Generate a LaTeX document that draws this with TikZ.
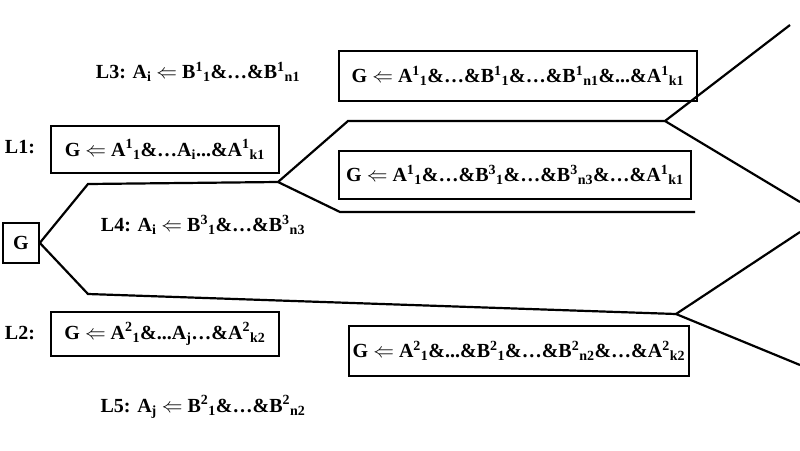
\documentclass[tikz,border=0pt]{standalone}
\usepackage{fontspec}
\setmainfont{Liberation Serif}
\begin{document}
\begin{tikzpicture}[x=1pt,y=-1pt,line width=2.2pt,
 box/.style={draw,line width=1.8pt,inner sep=0pt,anchor=north west,font=\bfseries\fontsize{20}{24}\selectfont},
 lbl/.style={font=\bfseries\fontsize{20}{24}\selectfont}]
\useasboundingbox (0,0) rectangle (800,450);
\newcommand{\sr}[2]{\textsuperscript{#1}\textsubscript{#2}}
\node[box,minimum width=36pt,minimum height=40pt] (g) at (2,222) {G};
\node[box,minimum width=358pt,minimum height=50pt] (b1) at (338,50) {G $\Leftarrow$ A\sr{1}{1}\&…\&B\sr{1}{1}\&…\&B\sr{1}{n1}\&...\&A\sr{1}{k1}};
\node[box,minimum width=228pt,minimum height=47pt] (b2) at (50,125) {G $\Leftarrow$ A\sr{1}{1}\&…A\textsubscript{i}...\&A\sr{1}{k1}};
\node[box,minimum width=352pt,minimum height=48pt] (b3) at (338,150) {G $\Leftarrow$ A\sr{1}{1}\&…\&B\sr{3}{1}\&…\&B\sr{3}{n3}\&…\&A\sr{1}{k1}};
\node[box,minimum width=228pt,minimum height=44pt] (b4) at (50,311) {G $\Leftarrow$ A\sr{2}{1}\&...A\textsubscript{j}…\&A\sr{2}{k2}};
\node[box,minimum width=340pt,minimum height=50pt] (b5) at (348,325) {G $\Leftarrow$ A\sr{2}{1}\&...\&B\sr{2}{1}\&…\&B\sr{2}{n2}\&…\&A\sr{2}{k2}};
\node[lbl] (l3) at (198,72) {L3: A\textsubscript{i} $\Leftarrow$ B\sr{1}{1}\&…\&B\sr{1}{n1}};
\node[lbl] (l1) at (20,147) {L1:};
\node[lbl] (l4) at (203,225) {L4: A\textsubscript{i} $\Leftarrow$ B\sr{3}{1}\&…\&B\sr{3}{n3}};
\node[lbl] (l2) at (20,333) {L2:};
\node[lbl] (l5) at (203,407) {L5: A\textsubscript{j} $\Leftarrow$ B\sr{2}{1}\&…\&B\sr{2}{n2}};
\coordinate (p1) at (88,184); \coordinate (p2) at (278,182);
\coordinate (p3) at (348,121); \coordinate (p4) at (665,121);
\coordinate (p5) at (790,25); \coordinate (p6) at (800,202);
\coordinate (p7) at (340,212); \coordinate (p8) at (695,212);
\coordinate (q1) at (88,294); \coordinate (q2) at (676,314);
\coordinate (q3) at (800,232); \coordinate (q4) at (800,365);
\draw (g.east) -- (p1) -- (p2) -- (p3) -- (p4) -- (p5);
\draw (p4) -- (p6);
\draw (p2) -- (p7) -- (p8);
\draw (g.east) -- (q1) -- (q2) -- (q3);
\draw (q2) -- (q4);
\end{tikzpicture}
\end{document}
